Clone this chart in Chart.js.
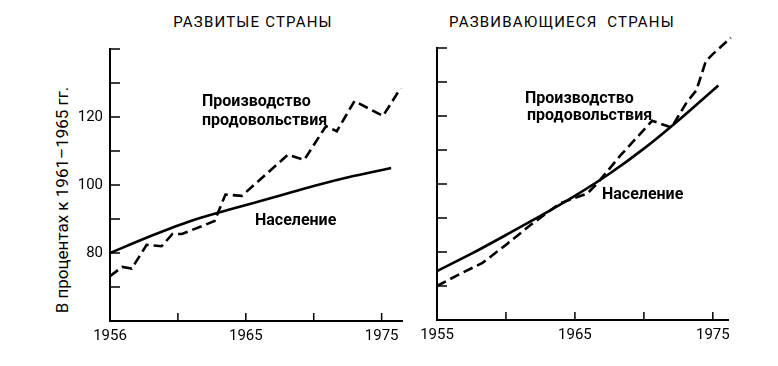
<!DOCTYPE html>
<html lang="ru">
<head>
<meta charset="utf-8">
<script src="https://cdn.jsdelivr.net/npm/chart.js@4.4.1/dist/chart.umd.min.js"></script>
<style>
  body { margin: 0; width: 778px; height: 366px; background: #fff; position: relative; overflow: hidden;
         font-family: Roboto, "DejaVu Sans", sans-serif; color: #000; }
  canvas { position: absolute; top: 20px; }
  .lbl { position: absolute; white-space: nowrap; line-height: 1; }
  .title { font-size: 15px; letter-spacing: 1.2px; top: 15px; transform: translateX(-50%); }
  .note { font-size: 16px; font-weight: bold; }
  .ytitle { font-size: 17px; left: 62px; top: 200px; transform: translate(-50%, -50%) rotate(-90deg); }
</style>
</head>
<body>
<div class="lbl title" style="left:253px">РАЗВИТЫЕ СТРАНЫ</div>
<div class="lbl title" style="left:562px">РАЗВИВАЮЩИЕСЯ&nbsp; СТРАНЫ</div>
<div class="lbl ytitle">В процентах к 1961–1965 гг.</div>

<canvas id="left" width="345" height="340" style="left:70px"></canvas>
<canvas id="right" width="381" height="340" style="left:397px"></canvas>

<div class="lbl note" style="left:202px; top:93px">Производство</div>
<div class="lbl note" style="left:202px; top:112px">продовольствия</div>
<div class="lbl note" style="left:255px; top:212px">Население</div>
<div class="lbl note" style="left:525px; top:90px">Производство</div>
<div class="lbl note" style="left:527px; top:107px">продовольствия</div>
<div class="lbl note" style="left:602px; top:186px">Население</div>

<script>
// ── axes ──
const X_TICKS = [1955, 1960, 1965, 1970, 1975];
const LEFT_X_LABELS = ['1956', '', '1965', '', '1975'];
const RIGHT_X_LABELS = ['1955', '', '1965', '', '1975'];
const Y_TICKS = [60, 70, 80, 90, 100, 110, 120, 130, 140];
const LEFT_Y_LABELS = ['', '', '80', '', '100', '', '120', '', ''];
const RIGHT_Y_LABELS = ['', '', '', '', '', '', '', '', ''];

// ── developed countries ──
const LEFT_POP_YEARS = [1955, 1958, 1961, 1964, 1967, 1970, 1973, 1975.7];
const LEFT_POP = [80, 85, 89.5, 93, 96.3, 99.7, 102.7, 105];
const LEFT_FOOD_YEARS = [1955, 1955.9, 1956.6, 1957.7, 1958.8, 1959.6, 1960.3, 1962.7, 1963.5,
                         1964.7, 1968.1, 1969.3, 1970.9, 1971.7, 1973.0, 1975.1, 1976.4];
const LEFT_FOOD = [73.2, 75.9, 75.4, 82.4, 82.0, 85.6, 85.6, 89.4, 97.2,
                   96.8, 108.9, 107.4, 117.3, 115.8, 124.7, 120.3, 128.5];

// ── developing countries ──
const RIGHT_POP_YEARS = [1955, 1957.5, 1960, 1962.5, 1965, 1967.5, 1970, 1972.5, 1975.4];
const RIGHT_POP = [74.4, 79.5, 85, 90.6, 96.5, 103, 110.4, 118.7, 129];
const RIGHT_FOOD_YEARS = [1955, 1956.4, 1958.3, 1960, 1961.8, 1963.9, 1965.9, 1966.6, 1968.3,
                          1970.6, 1972, 1973.1, 1973.8, 1974.5, 1975, 1976.3];
const RIGHT_FOOD = [70, 73, 76.8, 82.1, 88, 94.3, 97.2, 100.1, 108.4,
                    118.6, 116.6, 124, 127.5, 136.2, 138.2, 143];

Chart.defaults.font.family = 'Roboto, "DejaVu Sans", sans-serif';
Chart.defaults.color = '#000';

// ticks drawn inward from the axes, as in the printed figure
const innerTicks = {
  id: 'innerTicks',
  afterDatasetsDraw(chart) {
    const { ctx, chartArea: a, scales: { x, y } } = chart;
    ctx.save();
    ctx.strokeStyle = '#000';
    ctx.lineWidth = 1.5;
    ctx.beginPath();
    x.ticks.forEach(t => {
      if (t.value === x.min) return;
      const px = x.getPixelForValue(t.value);
      ctx.moveTo(px, a.bottom); ctx.lineTo(px, a.bottom - 8);
    });
    y.ticks.forEach(t => {
      if (t.value === y.min) return;
      const py = y.getPixelForValue(t.value);
      ctx.moveTo(a.left, py); ctx.lineTo(a.left + 10, py);
    });
    ctx.stroke();
    ctx.restore();
  }
};

const pts = (xs, ys) => xs.map((v, i) => ({ x: v, y: ys[i] }));

function makeChart(id, pop, food, xMax, xLabels, yLabels, padding) {
  return new Chart(document.getElementById(id), {
    type: 'line',
    data: {
      datasets: [
        { data: pop, borderColor: '#000', borderWidth: 2.6, pointRadius: 0,
          tension: 0.3, clip: false },
        { data: food, borderColor: '#000', borderWidth: 2.6, pointRadius: 0,
          borderDash: [10, 5], tension: 0, clip: false }
      ]
    },
    options: {
      responsive: false,
      animation: false,
      devicePixelRatio: 1,
      layout: { padding },
      plugins: { legend: { display: false }, tooltip: { enabled: false } },
      scales: {
        x: {
          type: 'linear', min: 1955, max: xMax,
          afterBuildTicks: s => { s.ticks = X_TICKS.map(v => ({ value: v })); },
          afterFit: s => { s.height = 30; },
          grid: { display: false, drawTicks: false },
          border: { display: true, color: '#000', width: 2 },
          ticks: { autoSkip: false, maxRotation: 0, padding: 6, font: { size: 15 },
                   callback: (v, i) => xLabels[i] }
        },
        y: {
          type: 'linear', min: 60, max: 140,
          afterBuildTicks: s => { s.ticks = Y_TICKS.map(v => ({ value: v })); },
          afterFit: s => { s.width = 40; },
          grid: { display: false, drawTicks: false },
          border: { display: true, color: '#000', width: 2 },
          ticks: { padding: 7, font: { size: 15 }, callback: (v, i) => yLabels[i] }
        }
      }
    },
    plugins: [innerTicks]
  });
}

makeChart('left', pts(LEFT_POP_YEARS, LEFT_POP), pts(LEFT_FOOD_YEARS, LEFT_FOOD),
          1976.5, LEFT_X_LABELS, LEFT_Y_LABELS, { top: 29, right: 13, bottom: 9, left: 0 });
makeChart('right', pts(RIGHT_POP_YEARS, RIGHT_POP), pts(RIGHT_FOOD_YEARS, RIGHT_FOOD),
          1976.1, RIGHT_X_LABELS, RIGHT_Y_LABELS, { top: 28, right: 50, bottom: 10, left: 0 });
</script>
</body>
</html>
